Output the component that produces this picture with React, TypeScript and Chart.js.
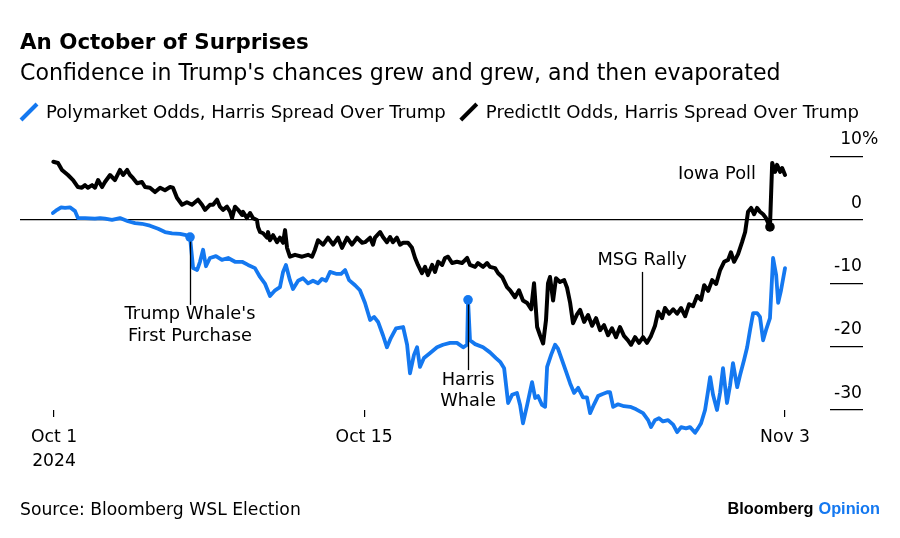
import React, { useEffect, useRef } from "react";
import { Chart, registerables } from "chart.js";

Chart.register(...registerables);

const BLUE = "#1478F0";
const BLACK = "#000000";
const FONT = "'DejaVu Sans', sans-serif";

// x = days since Oct 1, 2024; y = Harris spread over Trump (percentage points)
const polyDays = [
  -0.05, 0.14, 0.32, 0.5, 0.72, 0.95, 1.08, 1.4, 1.85, 2.08, 2.3, 2.62, 2.98, 3.34, 3.66, 3.97, 4.33, 4.7, 5.01, 5.33,
  5.69, 5.96, 6.14, 6.28, 6.46, 6.59, 6.73, 6.86, 7.04, 7.31, 7.58, 7.86, 8.17, 8.49, 8.76, 9.07, 9.3, 9.53, 9.75, 9.98,
  10.2, 10.34, 10.47, 10.65, 10.79, 11.02, 11.24, 11.47, 11.69, 11.92, 12.1, 12.28, 12.46, 12.73, 12.96, 13.14, 13.32, 13.59, 13.81, 14.04,
  14.27, 14.45, 14.63, 14.85, 15.03, 15.21, 15.44, 15.76, 15.94, 16.07, 16.25, 16.39, 16.52, 16.7, 16.98, 17.29, 17.56, 17.88, 18.19, 18.47,
  18.65, 18.69, 18.78, 19.01, 19.37, 19.68, 19.95, 20.14, 20.32, 20.5, 20.68, 20.9, 21.04, 21.17, 21.36, 21.58, 21.72, 21.85, 22.03, 22.17,
  22.26, 22.44, 22.62, 22.75, 22.93, 23.12, 23.3, 23.48, 23.66, 23.88, 24.06, 24.2, 24.38, 24.56, 24.74, 24.97, 25.1, 25.24, 25.46, 25.73,
  26.01, 26.28, 26.59, 26.82, 26.95, 27.13, 27.31, 27.49, 27.72, 27.95, 28.13, 28.31, 28.53, 28.71, 28.94, 29.07, 29.21, 29.39, 29.53, 29.62,
  29.75, 29.93, 30.07, 30.2, 30.38, 30.52, 30.65, 30.84, 30.97, 31.15, 31.29, 31.42, 31.56, 31.74, 31.87, 32.01, 32.14, 32.32, 32.46, 32.6,
  32.69, 32.82, 33.0,
];
const polyPct = [
  1.1, 1.6, 2.0, 1.9, 2.0, 1.4, 0.3, 0.3, 0.2, 0.3, 0.2, 0.0, 0.3, -0.2, -0.5, -0.6, -0.9, -1.4, -1.9, -2.1,
  -2.2, -2.4, -2.7, -7.6, -7.9, -6.6, -4.7, -7.3, -6.0, -5.7, -6.3, -6.0, -6.6, -6.6, -7.1, -7.6, -9.0, -10.1, -12.0, -11.1,
  -10.6, -8.2, -7.1, -9.5, -10.9, -9.6, -9.2, -10.0, -9.6, -10.0, -9.3, -9.6, -8.2, -8.5, -8.5, -7.9, -9.5, -10.3, -11.1, -13.1,
  -15.8, -15.3, -16.1, -18.2, -20.1, -18.6, -17.1, -16.9, -19.7, -24.2, -21.3, -20.1, -23.2, -21.8, -21.0, -20.1, -19.7, -19.4, -19.4, -20.1,
  -19.7, -12.6, -19.0, -19.6, -20.1, -20.9, -21.8, -22.4, -23.4, -28.9, -27.6, -27.3, -29.2, -32.1, -29.2, -25.6, -28.1, -27.8, -29.2, -29.5,
  -23.2, -21.3, -19.7, -20.3, -22.1, -24.0, -25.8, -27.3, -26.5, -28.0, -28.0, -30.5, -29.1, -27.8, -27.5, -27.2, -27.2, -29.5, -29.1, -29.4,
  -29.5, -29.9, -30.5, -31.6, -32.7, -31.6, -31.3, -31.8, -31.6, -32.3, -33.5, -32.7, -32.9, -32.7, -33.6, -32.9, -32.1, -30.0, -26.9, -24.8,
  -27.6, -30.0, -27.2, -23.4, -28.9, -26.1, -22.6, -26.4, -24.5, -22.1, -20.1, -17.4, -14.7, -14.7, -15.3, -19.0, -17.4, -15.5, -6.0, -8.7,
  -13.1, -11.1, -7.6,
];

const predDays = [
  -0.03, 0.18, 0.36, 0.63, 0.86, 1.08, 1.26, 1.4, 1.53, 1.72, 1.85, 1.99, 2.17, 2.3, 2.53, 2.75, 2.98, 3.12, 3.3, 3.43,
  3.57, 3.75, 3.97, 4.11, 4.33, 4.56, 4.79, 5.01, 5.24, 5.37, 5.55, 5.78, 6.0, 6.23, 6.5, 6.68, 6.82, 7.04, 7.18, 7.36,
  7.49, 7.63, 7.81, 7.95, 8.04, 8.17, 8.31, 8.49, 8.53, 8.71, 8.85, 8.98, 9.16, 9.21, 9.3, 9.44, 9.62, 9.66, 9.75, 9.89,
  10.07, 10.2, 10.34, 10.43, 10.52, 10.65, 10.88, 11.2, 11.47, 11.65, 11.78, 11.92, 12.15, 12.37, 12.6, 12.82, 13.0, 13.23, 13.45, 13.68,
  13.91, 14.04, 14.27, 14.4, 14.49, 14.72, 14.85, 15.03, 15.17, 15.3, 15.48, 15.62, 15.76, 15.98, 16.16, 16.3, 16.43, 16.61, 16.75, 16.88,
  17.07, 17.2, 17.34, 17.52, 17.65, 17.79, 17.97, 18.19, 18.42, 18.65, 18.78, 19.01, 19.14, 19.37, 19.55, 19.68, 19.91, 20.05, 20.23, 20.45,
  20.59, 20.81, 20.99, 21.17, 21.36, 21.54, 21.67, 21.81, 21.94, 22.08, 22.21, 22.3, 22.39, 22.53, 22.66, 22.84, 23.03, 23.16, 23.3, 23.43,
  23.61, 23.75, 23.93, 24.11, 24.29, 24.47, 24.65, 24.83, 25.01, 25.19, 25.37, 25.55, 25.73, 25.91, 26.05, 26.23, 26.41, 26.59, 26.77, 26.95,
  27.13, 27.27, 27.45, 27.58, 27.77, 27.95, 28.13, 28.31, 28.49, 28.67, 28.85, 29.03, 29.21, 29.35, 29.53, 29.71, 29.89, 30.07, 30.25, 30.43,
  30.56, 30.7, 30.88, 31.06, 31.2, 31.33, 31.47, 31.6, 31.74, 31.87, 32.01, 32.14, 32.32, 32.42, 32.55, 32.64, 32.78, 32.87, 33.0,
];
const predPct = [
  9.2, 9.0, 7.9, 7.1, 6.3, 5.2, 5.1, 5.5, 5.1, 5.5, 5.1, 6.3, 5.2, 6.0, 7.1, 6.3, 7.9, 7.1, 7.9, 7.1,
  6.6, 5.8, 6.0, 5.2, 5.1, 4.4, 5.1, 4.7, 5.2, 5.1, 3.5, 2.4, 2.8, 2.4, 3.2, 2.4, 1.6, 2.4, 2.4, 3.2,
  2.1, 1.6, 2.1, 1.3, 0.3, 2.1, 1.6, 0.8, 1.3, 0.3, 1.1, 0.3, 0.0, -1.1, -1.9, -2.1, -2.8, -1.9, -3.2, -2.4,
  -3.5, -2.8, -3.6, -1.6, -4.4, -5.8, -5.5, -5.8, -5.5, -5.8, -4.7, -3.2, -3.9, -2.8, -3.9, -2.8, -4.4, -2.8, -3.9, -2.8,
  -3.6, -3.5, -2.8, -3.9, -2.8, -1.9, -2.7, -3.5, -2.7, -3.5, -2.8, -3.9, -3.6, -3.6, -4.4, -6.0, -7.1, -8.4, -7.4, -8.7,
  -7.1, -8.2, -6.6, -7.1, -6.0, -5.8, -6.8, -6.6, -6.8, -6.0, -7.1, -7.4, -6.8, -7.4, -6.8, -7.4, -7.6, -8.4, -9.0, -10.6,
  -11.1, -12.2, -11.1, -12.7, -13.1, -14.1, -10.0, -16.9, -18.2, -19.5, -15.8, -10.0, -9.0, -12.7, -9.2, -9.8, -9.5, -10.7, -13.1, -16.3,
  -14.9, -14.2, -16.1, -15.0, -16.7, -15.5, -17.4, -16.6, -18.2, -17.1, -18.5, -16.9, -18.3, -19.0, -19.7, -18.5, -19.4, -18.5, -19.4, -18.3,
  -16.7, -14.5, -15.5, -13.9, -14.8, -14.1, -14.8, -13.9, -15.2, -13.3, -13.6, -12.0, -12.6, -10.3, -11.2, -9.5, -10.1, -7.9, -6.6, -6.3,
  -5.1, -6.6, -5.4, -3.5, -1.9, 1.3, 1.9, 0.9, 1.9, 1.3, 0.9, 0.3, -1.1, 9.0, 7.6, 8.7, 7.6, 8.2, 7.1,
];

const seriesNames = ["Polymarket Odds, Harris Spread Over Trump", "PredictIt Odds, Harris Spread Over Trump"];
const seriesColors = [BLUE, BLACK];

const xTickDays = [0, 14, 33];
const xTickLabels: (string | string[])[] = [["Oct 1", "2024"], "Oct 15", "Nov 3"];
const yTickValues = [10, 0, -10, -20, -30];
const yTickLabels = ["10", "0", "-10", "-20", "-30"];

// annotation anchors (data units)
const notes = [
  { day: 6.14, value: -2.7, dot: BLUE, lineFrom: -2.7, lineTo: -13.4, text: ["Trump Whale's", "First Purchase"], textBelowLine: true },
  { day: 18.69, value: -12.6, dot: BLUE, lineFrom: -12.6, lineTo: -23.7, text: ["Harris", "Whale"], textBelowLine: true },
  { day: 26.55, value: -19.0, dot: null, lineFrom: -8.2, lineTo: -19.0, text: ["MSG Rally"], textBelowLine: false },
  { day: 32.32, value: -1.1, dot: BLACK, lineFrom: null, lineTo: null, text: ["Iowa Poll"], textBelowLine: false },
];

const decorPlugin = {
  id: "decor",
  afterDatasetsDraw(chart: any) {
    const { ctx, scales } = chart;
    const x = scales.x;
    const y = scales.y;
    ctx.save();
    ctx.font = `17.8px ${FONT}`;
    ctx.fillStyle = "#000";
    ctx.textBaseline = "alphabetic";
    for (const n of notes) {
      const px = x.getPixelForValue(n.day);
      const py = y.getPixelForValue(n.value);
      if (n.lineFrom !== null && n.lineTo !== null) {
        ctx.strokeStyle = "#000";
        ctx.lineWidth = 1.3;
        ctx.beginPath();
        ctx.moveTo(Math.round(px) + 0.5, y.getPixelForValue(n.lineFrom));
        ctx.lineTo(Math.round(px) + 0.5, y.getPixelForValue(n.lineTo));
        ctx.stroke();
      }
      if (n.dot) {
        ctx.fillStyle = n.dot;
        ctx.beginPath();
        ctx.arc(px, py, 4.8, 0, Math.PI * 2);
        ctx.fill();
      }
      ctx.fillStyle = "#000";
      if (n.textBelowLine && n.lineTo !== null) {
        const top = y.getPixelForValue(n.lineTo);
        ctx.textAlign = "center";
        n.text.forEach((t, i) => ctx.fillText(t, px, top + 14.5 + i * 21.5));
      } else if (n.lineFrom !== null) {
        const top = y.getPixelForValue(n.lineFrom);
        ctx.textAlign = "center";
        ctx.fillText(n.text[0], px, top - 6.5);
      } else {
        ctx.textAlign = "right";
        ctx.fillText(n.text[0], px - 14, py - 48);
      }
    }
    ctx.restore();
  },
  afterDraw(chart: any) {
    const { ctx, scales } = chart;
    const y = scales.y;
    ctx.save();
    // y-axis labels sitting above the tick marks
    ctx.font = `17.2px ${FONT}`;
    ctx.fillStyle = "#000";
    ctx.textBaseline = "alphabetic";
    const labelRight = chart.chartArea.right + 32;
    yTickValues.forEach((v, i) => {
      const py = y.getPixelForValue(v) - 12.3;
      ctx.textAlign = "right";
      ctx.fillText(yTickLabels[i], labelRight, py);
      if (i === 0) {
        ctx.textAlign = "left";
        ctx.fillText("%", labelRight, py);
      }
    });
    // legend with slash markers
    ctx.font = `18.1px ${FONT}`;
    ctx.textAlign = "left";
    let lx = 20;
    const base = 117.5;
    chart.data.datasets.forEach((ds: any) => {
      ctx.strokeStyle = ds.borderColor;
      ctx.lineWidth = 4;
      ctx.lineCap = "butt";
      ctx.beginPath();
      ctx.moveTo(lx + 1, base + 2.5);
      ctx.lineTo(lx + 17, base - 13.5);
      ctx.stroke();
      ctx.fillStyle = "#000";
      ctx.fillText(ds.label, lx + 26, base);
      lx += 26 + ctx.measureText(ds.label).width + 14;
    });
    // footer
    ctx.font = `17.2px ${FONT}`;
    ctx.fillStyle = "#000";
    ctx.fillText("Source: Bloomberg WSL Election", 20, 515.3);
    ctx.font = `bold 16.3px 'Liberation Sans', Arial, sans-serif`;
    ctx.textAlign = "right";
    ctx.fillStyle = BLUE;
    ctx.fillText("Opinion", 880, 513.5);
    const ow = ctx.measureText("Opinion").width;
    ctx.fillStyle = "#000";
    ctx.fillText("Bloomberg", 880 - ow - 5, 513.5);
    ctx.restore();
  },
};

export default function App() {
  const canvasRef = useRef<HTMLCanvasElement | null>(null);

  useEffect(() => {
    if (!canvasRef.current) return;
    Chart.defaults.font.family = FONT;
    const chart = new Chart(canvasRef.current, {
      type: "line",
      data: {
        datasets: [
          {
            label: seriesNames[0],
            data: polyDays.map((d, i) => ({ x: d, y: polyPct[i] })),
            borderColor: seriesColors[0],
            backgroundColor: seriesColors[0],
            borderWidth: 3.8,
            pointRadius: 0,
            tension: 0,
            borderJoinStyle: "round",
            borderCapStyle: "round",
            clip: false as any,
          },
          {
            label: seriesNames[1],
            data: predDays.map((d, i) => ({ x: d, y: predPct[i] })),
            borderColor: seriesColors[1],
            backgroundColor: seriesColors[1],
            borderWidth: 4,
            pointRadius: 0,
            tension: 0,
            borderJoinStyle: "round",
            borderCapStyle: "round",
            clip: false as any,
          },
        ],
      },
      options: {
        animation: false,
        responsive: true,
        maintainAspectRatio: false,
        devicePixelRatio: 1,
        layout: { padding: { left: 20, right: 0, top: 0, bottom: 60 } },
        plugins: {
          legend: { display: false },
          tooltip: { enabled: false },
          title: {
            display: true,
            text: "An October of Surprises",
            align: "start",
            color: "#000",
            font: { size: 21.4, weight: "bold", family: FONT, lineHeight: 1.2 },
            padding: { top: 30.46, bottom: 0 },
          },
          subtitle: {
            display: true,
            text: "Confidence in Trump's chances grew and grew, and then evaporated",
            align: "start",
            color: "#000",
            font: { size: 22.1, weight: "normal", family: FONT, lineHeight: 1.2 },
            padding: { top: 4.7, bottom: 56.6 },
          },
        },
        scales: {
          x: {
            type: "linear",
            min: -1.535,
            max: 35.03,
            afterBuildTicks: (s: any) => {
              s.ticks = xTickDays.map((v) => ({ value: v }));
            },
            afterFit: (s: any) => {
              s.height = 68;
            },
            grid: { drawOnChartArea: false, drawTicks: true, tickLength: 7, tickColor: "#000", lineWidth: 1.2 },
            border: { display: false },
            ticks: {
              autoSkip: false,
              maxRotation: 0,
              minRotation: 0,
              padding: 8.25,
              color: "#000",
              font: { size: 17.2, family: FONT, lineHeight: 24.5 / 17.2 },
              callback: (v: any) => {
                const i = xTickDays.indexOf(Number(v));
                return i >= 0 ? xTickLabels[i] : "";
              },
            },
          },
          y: {
            position: "right",
            min: -30,
            max: 12,
            afterBuildTicks: (s: any) => {
              s.ticks = yTickValues.map((v) => ({ value: v }));
            },
            afterFit: (s: any) => {
              s.width = 70;
            },
            grid: {
              color: (c: any) => (c.tick && c.tick.value === 0 ? "#000" : "rgba(0,0,0,0)"),
              tickColor: "#000",
              tickLength: 33,
              lineWidth: 1.3,
              drawTicks: true,
            },
            border: { display: false },
            ticks: { display: false },
          },
        },
      },
      plugins: [decorPlugin],
    });
    return () => chart.destroy();
  }, []);

  return (
    <div style={{ position: "fixed", left: 0, top: 0, width: 900, height: 538, background: "#fff" }}>
      <canvas ref={canvasRef} />
    </div>
  );
}
